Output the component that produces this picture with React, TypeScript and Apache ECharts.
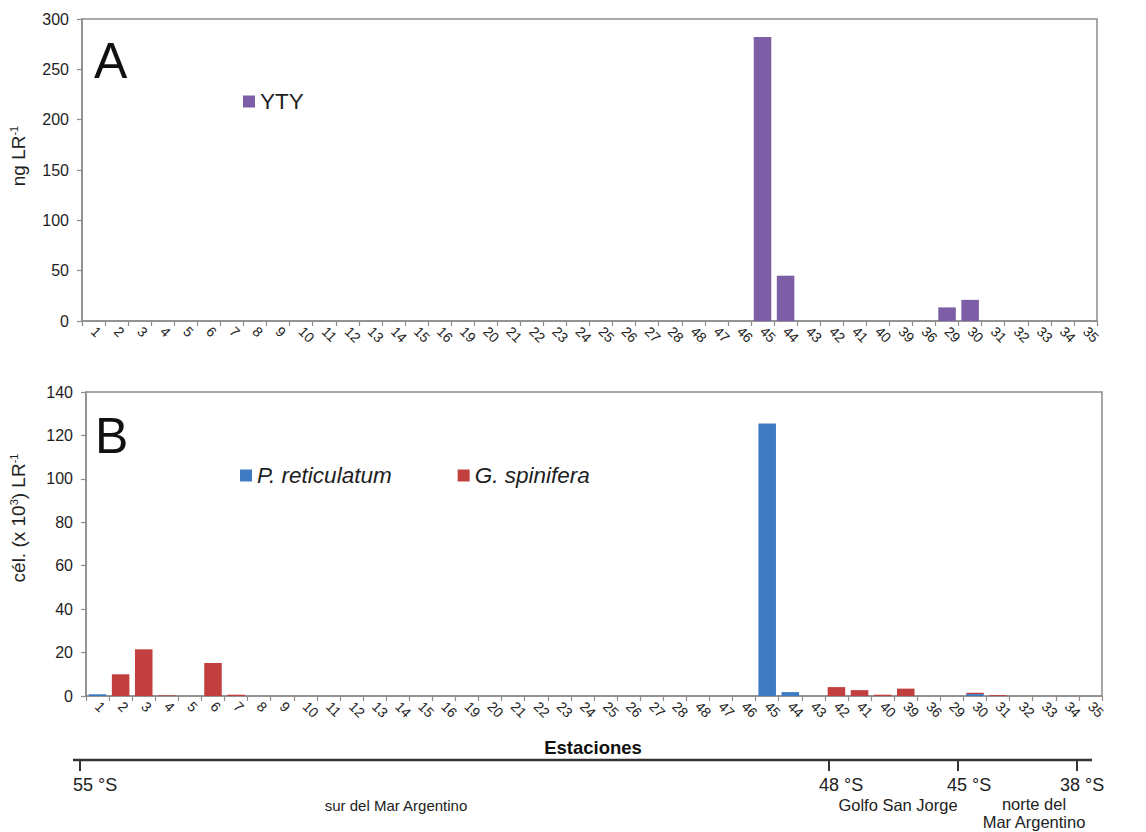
import React, { useEffect, useRef } from "react";
import * as echarts from "echarts";

const stations = ["1","2","3","4","5","6","7","8","9","10","11","12","13","14","15","16","19","20","21","22","23","24","25","26","27","28","48","47","46","45","44","43","42","41","40","39","36","29","30","31","32","33","34","35"];

// Panel A: YTY (ng LR-1)
const ytyValues = [0,0,0,0,0,0,0,0,0,0,0,0,0,0,0,0,0,0,0,0,0,0,0,0,0,0,0,0,0,282,45,0,0,0,0,0,0,13.5,21,0,0,0,0,0];

// Panel B: cells (x10^3) LR-1
const pReticulatum = [0.8,0,0,0,0,0,0,0,0,0,0,0,0,0,0,0,0,0,0,0,0,0,0,0,0,0,0,0,0,125.5,1.8,0,0,0,0,0,0,0,0.9,0,0,0,0,0];
const gSpinifera = [0,10,21.5,0.3,0,15.2,0.6,0,0,0,0,0,0,0,0,0,0,0,0,0,0,0,0,0,0,0,0,0,0,0,0,0,4.1,2.7,0.6,3.4,0,0,0.6,0.4,0,0,0,0];

const yTicksA = { min: 0, max: 300, interval: 50 };
const yTicksB = { min: 0, max: 140, interval: 20 };

const latMarks = [
  { label: "55 °S", tick: 80, textX: 73 },
  { label: "48 °S", tick: 829, textX: 819 },
  { label: "45 °S", tick: 958, textX: 947 },
  { label: "38 °S", tick: 1077, textX: 1060 },
];

const FONT = "Liberation Sans, Arial, sans-serif";
const PURPLE = "#7b5ea5";
const BLUE = "#3e7bc2";
const RED = "#c1403f";
const AXIS = "#8c8c8c";
const TXT = "#1e1e1e";

export default function App() {
  const ref = useRef<HTMLDivElement>(null);
  useEffect(() => {
    document.body.style.margin = "0";
    if (!ref.current) return;
    const chart = echarts.init(ref.current, null, { renderer: "svg" });

    const xAxisBase = (gridIndex: number) => ({
      type: "category" as const,
      gridIndex,
      data: stations,
      boundaryGap: true,
      axisLine: { lineStyle: { color: AXIS, width: 1.5 } },
      axisTick: { show: true, length: 5, interval: 0, lineStyle: { color: AXIS, width: 1.2 } },
      axisLabel: { interval: 0, rotate: -45, fontSize: 14, color: TXT, fontFamily: FONT, margin: 8 },
      splitLine: { show: false },
    });
    const yAxisBase = (gridIndex: number, t: { min: number; max: number; interval: number }) => ({
      type: "value" as const,
      gridIndex,
      min: t.min,
      max: t.max,
      interval: t.interval,
      axisLine: { show: true, lineStyle: { color: AXIS, width: 1.5 } },
      axisTick: { show: true, length: 5, lineStyle: { color: AXIS, width: 1.2 } },
      axisLabel: { fontSize: 16, color: TXT, fontFamily: FONT, margin: 13 },
      splitLine: { show: false },
    });

    const barStyle = (c: string) => ({ color: c });
    const sup = { n: { fontSize: 19, fill: TXT, fontFamily: FONT }, s: { fontSize: 11, fill: TXT, fontFamily: FONT, verticalAlign: "top", padding: [0, 0, 9, 0] } };

    const option: any = {
      animation: false,
      backgroundColor: "#ffffff",
      textStyle: { fontFamily: FONT },
      grid: [
        { left: 82, right: 49, top: 19, height: 302, show: true, borderColor: AXIS, borderWidth: 1.5, containLabel: false },
        { left: 86, right: 44, top: 392, height: 304, show: true, borderColor: AXIS, borderWidth: 1.5, containLabel: false },
      ],
      xAxis: [xAxisBase(0), xAxisBase(1)],
      yAxis: [yAxisBase(0, yTicksA), yAxisBase(1, yTicksB)],
      legend: [
        {
          data: ["YTY"], left: 243, top: 90, padding: 0, itemWidth: 12, itemHeight: 12, icon: "rect",
          textStyle: { fontSize: 22.5, color: TXT, fontFamily: FONT, padding: [0, 0, 0, 0] },
        },
        {
          data: ["P. reticulatum", "G. spinifera"], left: 240, top: 464, padding: 0, itemWidth: 12, itemHeight: 12, icon: "rect",
          itemGap: 66,
          textStyle: { fontSize: 22.5, color: TXT, fontFamily: FONT, fontStyle: "italic", padding: [0, 0, 0, 0] },
        },
      ],
      series: [
        { name: "YTY", type: "bar", xAxisIndex: 0, yAxisIndex: 0, data: ytyValues, barCategoryGap: "24%", itemStyle: barStyle(PURPLE) },
        { name: "P. reticulatum", type: "bar", stack: "b", xAxisIndex: 1, yAxisIndex: 1, data: pReticulatum, barCategoryGap: "24%", itemStyle: barStyle(BLUE) },
        { name: "G. spinifera", type: "bar", stack: "b", xAxisIndex: 1, yAxisIndex: 1, data: gSpinifera, barCategoryGap: "24%", itemStyle: barStyle(RED) },
      ],
      graphic: [
        { type: "text", left: 94, top: 36, style: { text: "A", fontSize: 50, fill: "#111", fontFamily: FONT } },
        { type: "text", left: 95, top: 411, style: { text: "B", fontSize: 50, fill: "#111", fontFamily: FONT } },
        {
          type: "text", x: 18, y: 156, rotation: Math.PI / 2,
          style: { text: "{n|ng LR}{s|-1}", align: "center", verticalAlign: "middle", fill: TXT, fontFamily: FONT, rich: sup },
        },
        {
          type: "text", x: 18, y: 518, rotation: Math.PI / 2,
          style: { text: "{n|cél. (x 10}{s|3}{n|) LR}{s|-1}", align: "center", verticalAlign: "middle", fill: TXT, fontFamily: FONT, rich: sup },
        },
        { type: "text", x: 593, y: 747, style: { text: "Estaciones", align: "center", verticalAlign: "middle", fontSize: 18.5, fontWeight: "bold", fill: "#111", fontFamily: FONT } },
        { type: "line", shape: { x1: 73, y1: 760, x2: 1092, y2: 760 }, style: { stroke: "#333", lineWidth: 2.5 } },
        ...latMarks.map((m) => ({ type: "line", shape: { x1: m.tick, y1: 760, x2: m.tick, y2: 771 }, style: { stroke: "#333", lineWidth: 2 } })),
        ...latMarks.map((m) => ({
          type: "text", x: m.textX, y: 785,
          style: { text: m.label, align: "left", verticalAlign: "middle", fontSize: 18, fill: "#222", fontFamily: FONT },
        })),
        { type: "text", x: 396, y: 805, style: { text: "sur del Mar Argentino", align: "center", verticalAlign: "middle", fontSize: 15, fill: "#222", fontFamily: FONT } },
        { type: "text", x: 898, y: 805, style: { text: "Golfo San Jorge", align: "center", verticalAlign: "middle", fontSize: 16.5, fill: "#222", fontFamily: FONT } },
        { type: "text", x: 1034, y: 804, style: { text: "norte del", align: "center", verticalAlign: "middle", fontSize: 16.5, fill: "#222", fontFamily: FONT } },
        { type: "text", x: 1034, y: 822, style: { text: "Mar Argentino", align: "center", verticalAlign: "middle", fontSize: 16.5, fill: "#222", fontFamily: FONT } },
      ],
    };
    chart.setOption(option);
    return () => chart.dispose();
  }, []);
  return <div ref={ref} style={{ width: 1146, height: 832 }} />;
}
